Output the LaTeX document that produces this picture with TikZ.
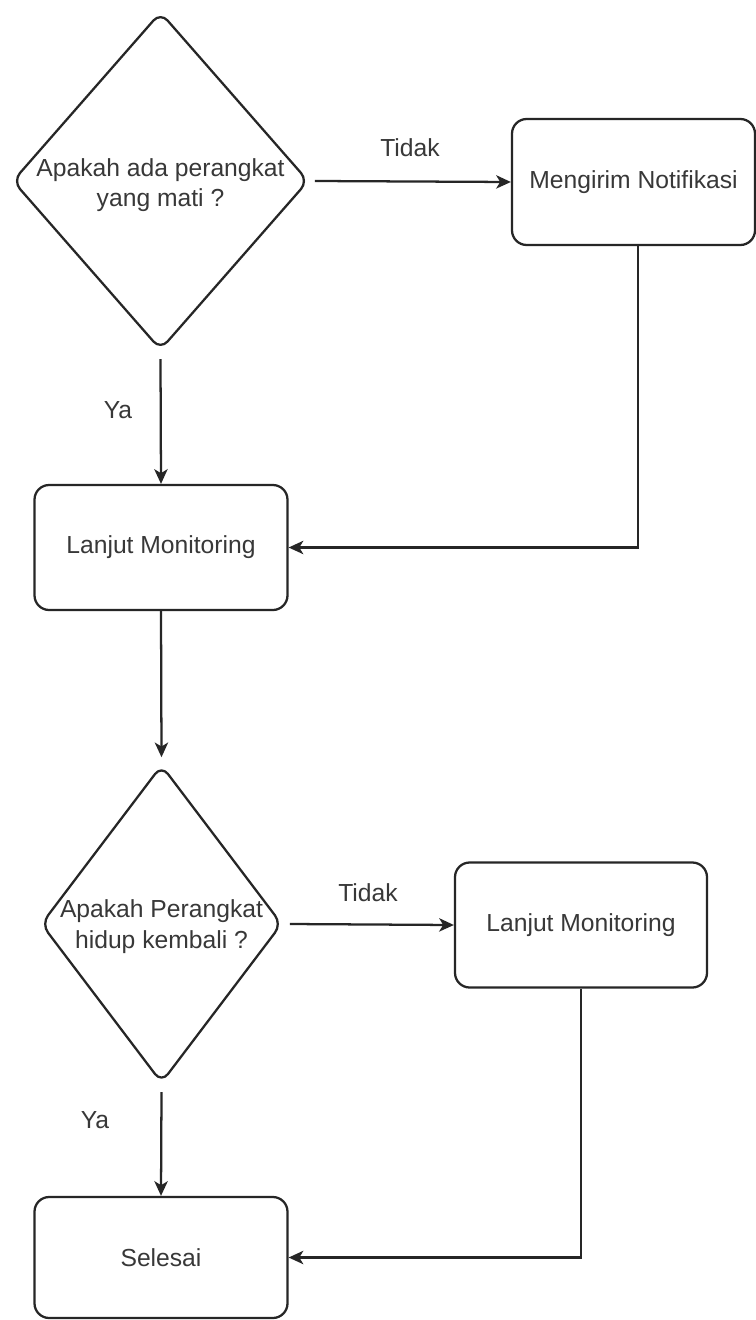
\documentclass[tikz,border=0pt]{standalone}
\usepackage{fontspec}
\setmainfont{Liberation Sans}
\usetikzlibrary{shapes.geometric,arrows.meta}
\begin{document}
\begin{tikzpicture}[x=0.75pt,y=-0.75pt,
  txt/.style={font=\fontsize{18.5}{23}\selectfont, text=black!78, inner sep=0pt, align=center},
  box/.style={draw=black!85, line width=1.7pt, rounded corners=11pt, fill=white, inner sep=0pt},
  dia/.style={draw=black!85, line width=1.7pt, shape=diamond, rounded corners=8pt, fill=white, inner sep=0pt},
  arr/.style={draw=black!85, line width=1.7pt, -{Stealth[length=11pt,width=10pt,inset=3pt]}}]
\useasboundingbox (0,0) rectangle (756,1320);
\fill[white] (0,0) rectangle (756,1320);

% shapes
\node[dia, minimum width=222pt, minimum height=253.5pt] (d1) at (160.5,181) {};
\node[txt] (d1t) at ([yshift=-3pt]d1.center) {Apakah ada perangkat\\yang mati ?};
\node[box, minimum width=182.25pt, minimum height=94.5pt] (n1) at (633.5,182) {};
\node[txt] (n1t) at (n1.center) {Mengirim Notifikasi};
\node[box, minimum width=189.75pt, minimum height=93.75pt] (b1) at (161,547.5) {};
\node[txt] (b1t) at (b1.center) {Lanjut Monitoring};
\node[dia, minimum width=180.75pt, minimum height=238.5pt] (d2) at (161.5,924) {};
\node[txt] (d2t) at ([yshift=-2pt]d2.center) {Apakah Perangkat\\hidup kembali ?};
\node[box, minimum width=189pt, minimum height=93.75pt] (b2) at (581,925) {};
\node[txt] (b2t) at (b2.center) {Lanjut Monitoring};
\node[box, minimum width=189.75pt, minimum height=90.75pt] (b3) at (161,1257.5) {};
\node[txt] (b3t) at (b3.center) {Selesai};

% connectors
\draw[arr] ([xshift=4pt]d1.east) -- (n1.west);
\draw[arr] ([yshift=-6pt]d1.south) -- (b1.north);
\draw[arr] ([xshift=3.5pt]n1.south) |- (b1.east);
\draw[arr] (b1.south) -- ([yshift=5pt]d2.north);
\draw[arr] ([xshift=5pt]d2.east) -- (b2.west);
\draw[arr] ([yshift=-6pt]d2.south) -- (b3.north);
\draw[arr] (b2.south) |- (b3.east);

% labels
\node[txt] (l1) at (410,148) {Tidak};
\node[txt] (l2) at (118,410) {Ya};
\node[txt] (l3) at (368,893) {Tidak};
\node[txt] (l4) at (95,1120) {Ya};
\end{tikzpicture}
\end{document}
